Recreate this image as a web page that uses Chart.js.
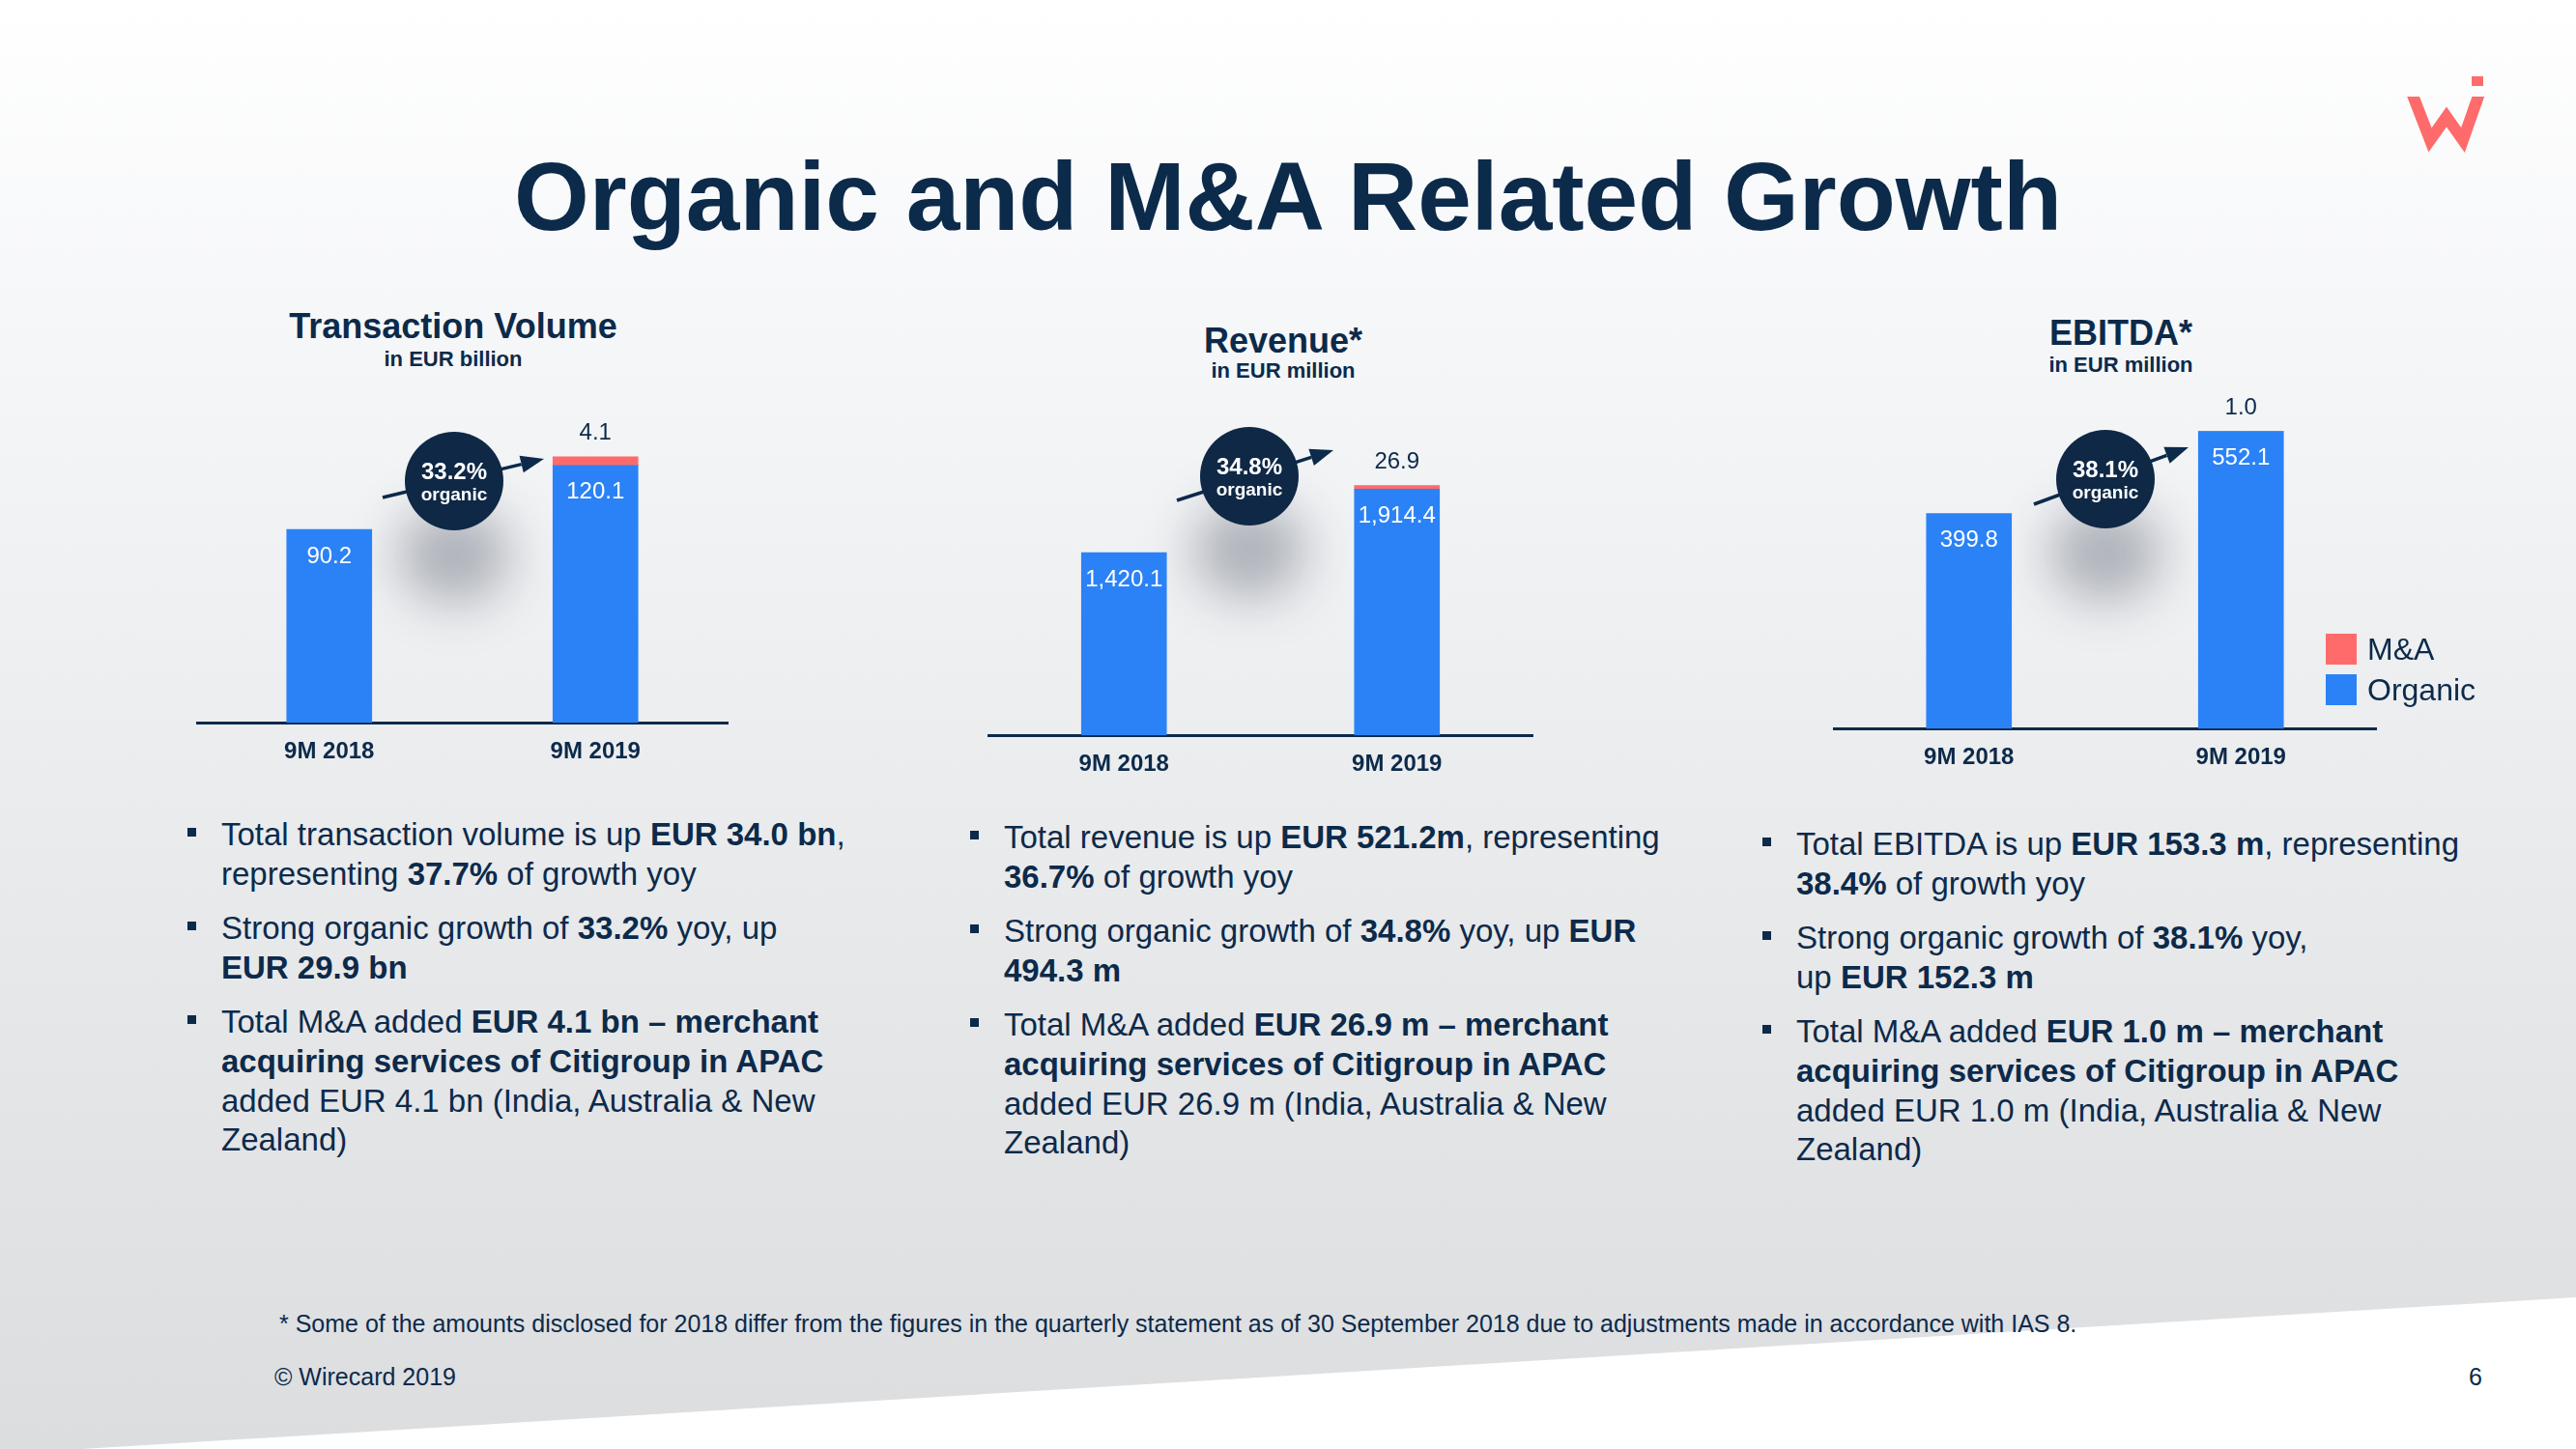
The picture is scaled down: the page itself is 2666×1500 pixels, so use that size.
<!DOCTYPE html>
<html>
<head>
<meta charset="utf-8">
<script src="https://cdn.jsdelivr.net/npm/chart.js@4.4.0/dist/chart.umd.min.js"></script>
<style>
  html, body { margin: 0; padding: 0; }
  body {
    width: 2666px; height: 1500px; position: relative; overflow: hidden;
    background: linear-gradient(to bottom, #ffffff 0px, #f6f7f9 320px, #e9eaec 900px, #dcdddf 1500px);
    font-family: "Liberation Sans", Arial, sans-serif; color: #0c2a4a;
  }
  .abs { position: absolute; white-space: nowrap; }
  .wedge { position: absolute; left: 0; top: 0; width: 2666px; height: 1500px;
    background: #ffffff; clip-path: polygon(85px 1500px, 2666px 1343px, 2666px 1500px); }
  h1 { position: absolute; left: 0; width: 2666px; top: 153px; margin: 0; text-align: center;
    font-size: 100px; line-height: 100px; font-weight: bold; }
  .ctitle { position: absolute; width: 600px; text-align: center; font-weight: bold; white-space: nowrap; }
  .ctitle.main { font-size: 36px; line-height: 36px; }
  .ctitle.sub { font-size: 22px; line-height: 22px; }
  canvas { position: absolute; }
  ul.bul { position: absolute; margin: 0; padding: 0; list-style: none;
    font-size: 33px; line-height: 40.8px; white-space: nowrap; }
  ul.bul li { position: relative; margin-bottom: 15.4px; }
  ul.bul li::before { content: ""; position: absolute; left: -35px; top: 13px; width: 9px; height: 9px; background: #0c2a4a; }
  .legend { position: absolute; left: 2407px; top: 656px; font-size: 32px; line-height: 32px; }
  .legend .row { display: flex; align-items: center; height: 32px; margin-bottom: 10px; }
  .legend .sw { width: 32px; height: 32px; margin-right: 11px; }
  .foot { font-size: 25px; line-height: 25px; }
</style>
</head>
<body>
<div class="wedge"></div>

<svg class="abs" style="left:2480px;top:70px" width="110" height="100" viewBox="2480 70 110 100">
  <defs><clipPath id="wcut"><rect x="2480" y="100" width="110" height="70"/></clipPath></defs>
  <polyline points="2493,88 2515,145 2532,121 2549,145 2569,88" fill="none" stroke="#ff6b6b"
            stroke-width="12" stroke-miterlimit="10" clip-path="url(#wcut)"/>
  <rect x="2558" y="79" width="12" height="10" fill="#ff6b6b"/>
</svg>

<h1>Organic and M&amp;A Related Growth</h1>

<div class="ctitle main" style="left:169px;top:320px">Transaction Volume</div>
<div class="ctitle sub" style="left:169px;top:361px">in EUR billion</div>
<div class="ctitle main" style="left:1028px;top:335px">Revenue*</div>
<div class="ctitle sub" style="left:1028px;top:373px">in EUR million</div>
<div class="ctitle main" style="left:1895px;top:327px">EBITDA*</div>
<div class="ctitle sub" style="left:1895px;top:367px">in EUR million</div>

<canvas id="c1" width="551" height="408" style="left:203px;top:400px"></canvas>
<canvas id="c2" width="565" height="421" style="left:1022px;top:400px"></canvas>
<canvas id="c3" width="563" height="434" style="left:1897px;top:380px"></canvas>

<div class="legend" id="legend"></div>

<ul class="bul" style="left:229px;top:844px">
  <li>Total transaction volume is up <b>EUR 34.0 bn</b>,<br>representing <b>37.7%</b> of growth yoy</li>
  <li>Strong organic growth of <b>33.2%</b> yoy, up<br><b>EUR 29.9 bn</b></li>
  <li>Total M&amp;A added <b>EUR 4.1 bn – merchant<br>acquiring services of Citigroup in APAC</b><br>added EUR 4.1 bn (India, Australia &amp; New<br>Zealand)</li>
</ul>
<ul class="bul" style="left:1039px;top:847px">
  <li>Total revenue is up <b>EUR 521.2m</b>, representing<br><b>36.7%</b> of growth yoy</li>
  <li>Strong organic growth of <b>34.8%</b> yoy, up <b>EUR<br>494.3 m</b></li>
  <li>Total M&amp;A added <b>EUR 26.9 m – merchant<br>acquiring services of Citigroup in APAC</b><br>added EUR 26.9 m (India, Australia &amp; New<br>Zealand)</li>
</ul>
<ul class="bul" style="left:1859px;top:854px">
  <li>Total EBITDA is up <b>EUR 153.3 m</b>, representing<br><b>38.4%</b> of growth yoy</li>
  <li>Strong organic growth of <b>38.1%</b> yoy,<br>up <b>EUR 152.3 m</b></li>
  <li>Total M&amp;A added <b>EUR 1.0 m – merchant<br>acquiring services of Citigroup in APAC</b><br>added EUR 1.0 m (India, Australia &amp; New<br>Zealand)</li>
</ul>

<div class="abs foot" style="left:289px;top:1358px">* Some of the amounts disclosed for 2018 differ from the figures in the quarterly statement as of 30 September 2018 due to adjustments made in accordance with IAS 8.</div>
<div class="abs foot" style="left:284px;top:1413px">© Wirecard 2019</div>
<div class="abs foot" style="left:2555px;top:1413px">6</div>

<script>
const navy = '#0c2a4a';
const blue = '#2b82f6';
const coral = '#ff6b6b';

// data
const categories = ['9M 2018', '9M 2019'];
const seriesNames = ['Organic', 'M&A'];
const volumeOrganic = [90.2, 120.1];
const volumeMA = [null, 4.1];
const revenueOrganic = [1420.1, 1914.4];
const revenueMA = [null, 26.9];
const ebitdaOrganic = [399.8, 552.1];
const ebitdaMA = [null, 1.0];
const organicGrowth = ['33.2%', '34.8%', '38.1%'];

Chart.defaults.font.family = '"Liberation Sans", Arial, sans-serif';
Chart.defaults.color = navy;

const fmt = v => v.toLocaleString('en-US', { minimumFractionDigits: 1, maximumFractionDigits: 1 });

// value labels: organic inside the bar (white), M&A above the stack
const barLabels = {
  id: 'barLabels',
  afterDatasetsDraw(chart) {
    const ctx = chart.ctx;
    ctx.save();
    ctx.font = '24px "Liberation Sans", Arial, sans-serif';
    ctx.textAlign = 'center';
    ctx.textBaseline = 'middle';
    chart.getDatasetMeta(0).data.forEach((bar, i) => {
      ctx.fillStyle = '#ffffff';
      ctx.fillText(fmt(chart.data.datasets[0].data[i]), bar.x, bar.y + 28);
    });
    chart.getDatasetMeta(1).data.forEach((bar, i) => {
      const v = chart.data.datasets[1].data[i];
      if (v == null) return;
      ctx.fillStyle = navy;
      ctx.fillText(fmt(v), bar.x, bar.y - 24);
    });
    ctx.restore();
  }
};

// the dark "xx% organic" bubble with arrow and soft shadow
const growthBubble = {
  id: 'growthBubble',
  beforeDatasetsDraw(chart, args, o) {
    const ctx = chart.ctx;
    ctx.save();
    ctx.filter = 'blur(26px)';
    ctx.fillStyle = 'rgba(20,30,50,0.3)';
    ctx.beginPath();
    ctx.ellipse(o.x, o.y + 76, 58, 50, 0, 0, Math.PI * 2);
    ctx.fill();
    ctx.restore();
  },
  afterDatasetsDraw(chart, args, o) {
    const ctx = chart.ctx;
    ctx.save();
    // arrow
    const ang = Math.atan2(o.y1 - o.y0, o.x1 - o.x0);
    const head = 24, half = 9;
    const bx = o.x1 - head * Math.cos(ang), by = o.y1 - head * Math.sin(ang);
    ctx.strokeStyle = navy;
    ctx.fillStyle = navy;
    ctx.lineWidth = 3.5;
    ctx.beginPath(); ctx.moveTo(o.x0, o.y0); ctx.lineTo(bx, by); ctx.stroke();
    ctx.beginPath();
    ctx.moveTo(o.x1, o.y1);
    ctx.lineTo(bx + half * Math.sin(ang), by - half * Math.cos(ang));
    ctx.lineTo(bx - half * Math.sin(ang), by + half * Math.cos(ang));
    ctx.closePath(); ctx.fill();
    // bubble
    ctx.fillStyle = '#0e2846';
    ctx.beginPath(); ctx.arc(o.x, o.y, 51, 0, Math.PI * 2); ctx.fill();
    ctx.fillStyle = '#ffffff';
    ctx.textAlign = 'center';
    ctx.textBaseline = 'alphabetic';
    ctx.font = 'bold 24px "Liberation Sans", Arial, sans-serif';
    ctx.fillText(o.text, o.x, o.y - 2);
    ctx.font = 'bold 19px "Liberation Sans", Arial, sans-serif';
    ctx.fillText('organic', o.x, o.y + 20);
    ctx.restore();
  }
};

function makeChart(id, organic, ma, yMax, bubble) {
  new Chart(document.getElementById(id), {
    type: 'bar',
    data: {
      labels: categories,
      datasets: [
        { label: seriesNames[0], data: organic, backgroundColor: blue, barThickness: 88 },
        { label: seriesNames[1], data: ma, backgroundColor: coral, barThickness: 88 }
      ]
    },
    options: {
      responsive: false,
      animation: false,
      events: [],
      layout: { padding: 0 },
      scales: {
        x: {
          stacked: true,
          z: 1,
          grid: { display: false, drawTicks: false, tickLength: 0 },
          border: { display: true, color: navy, width: 3 },
          ticks: { color: navy, padding: 15.5, font: { size: 24, weight: 'bold' } }
        },
        y: { stacked: true, display: false, min: 0, max: yMax }
      },
      plugins: {
        legend: { display: false },
        tooltip: { enabled: false },
        growthBubble: bubble
      }
    },
    plugins: [growthBubble, barLabels]
  });
}

makeChart('c1', volumeOrganic, volumeMA, 157,
  { text: organicGrowth[0], x: 267, y: 98, x0: 193, y0: 115, x1: 360, y1: 75 });
makeChart('c2', revenueOrganic, revenueMA, 2712,
  { text: organicGrowth[1], x: 271, y: 93, x0: 196, y0: 118, x1: 358, y1: 66 });
makeChart('c3', ebitdaOrganic, ebitdaMA, 672,
  { text: organicGrowth[2], x: 282, y: 116, x0: 208, y0: 142, x1: 368, y1: 83 });

// legend: M&A on top, Organic below (stack order)
const legendColors = [blue, coral];
const legend = document.getElementById('legend');
[1, 0].forEach(i => {
  const row = document.createElement('div');
  row.className = 'row';
  row.innerHTML = '<div class="sw" style="background:' + legendColors[i] + '"></div><span></span>';
  row.querySelector('span').textContent = seriesNames[i];
  legend.appendChild(row);
});
</script>
</body>
</html>
